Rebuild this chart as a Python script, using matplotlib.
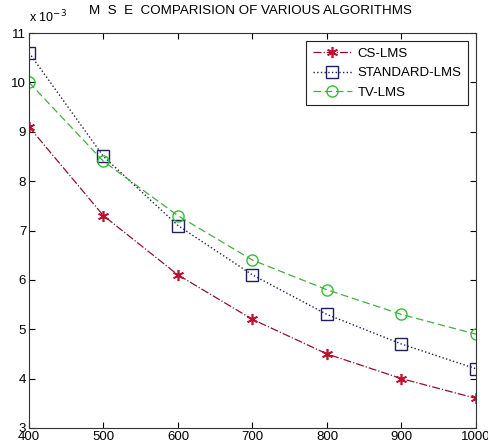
import matplotlib
matplotlib.use("Agg")
import matplotlib.pyplot as plt

plt.rcParams['font.family'] = ['Liberation Sans', 'DejaVu Sans']

iterations = [400, 500, 600, 700, 800, 900, 1000]
cs_lms = [9.1, 7.3, 6.1, 5.2, 4.5, 4.0, 3.6]
standard_lms = [10.6, 8.5, 7.1, 6.1, 5.3, 4.7, 4.2]
tv_lms = [10.0, 8.4, 7.3, 6.4, 5.8, 5.3, 4.9]
x_ticks = [400, 500, 600, 700, 800, 900, 1000]
y_ticks = [3, 4, 5, 6, 7, 8, 9, 10, 11]

fig = plt.figure(figsize=(4.89, 4.45), dpi=100)
ax = fig.add_axes([29/489, 1-428/445, (476-29)/489, (428-33)/445])

ax.plot(iterations, cs_lms, color='#901030', linestyle='-.', linewidth=0.9,
        marker=(6, 2, 0), markersize=8, markeredgewidth=1.2, markeredgecolor='#c01030',
        label='CS-LMS')
ax.plot(iterations, standard_lms, color='#202050', linestyle=':', linewidth=1.0,
        marker='s', markersize=8, markerfacecolor='none', markeredgecolor='#202060',
        markeredgewidth=1.0, label='STANDARD-LMS')
ax.plot(iterations, tv_lms, color='#40b040', linestyle='--', linewidth=0.9,
        marker='o', markersize=8, markerfacecolor='none', markeredgecolor='#30c030',
        markeredgewidth=1.0, label='TV-LMS', dashes=(6, 3))

ax.set_xlim(400, 1000)
ax.set_ylim(3, 11)
ax.set_xticks(x_ticks)
ax.set_yticks(y_ticks)
ax.tick_params(direction='in', top=True, right=True, labelsize=9.5, length=4, width=0.8, pad=2)
for s in ax.spines.values():
    s.set_linewidth(0.8)
    s.set_color('#333333')

ax.text(0.0, 1.02, r'x 10$^{-3}$', transform=ax.transAxes, fontsize=9, ha='left', va='bottom')
ax.text(0.495, 1.04, 'M  S  E  COMPARISION OF VARIOUS ALGORITHMS', transform=ax.transAxes,
        fontsize=9.6, ha='center', va='bottom')

leg = ax.legend(loc='upper right', fontsize=9.5, frameon=True, fancybox=False,
                edgecolor='#222222', framealpha=1, borderaxespad=0.6,
                handlelength=3.0, handletextpad=0.4, labelspacing=0.55, borderpad=0.5)
leg.get_frame().set_linewidth(0.8)

fig.savefig('out.png', dpi=100)
